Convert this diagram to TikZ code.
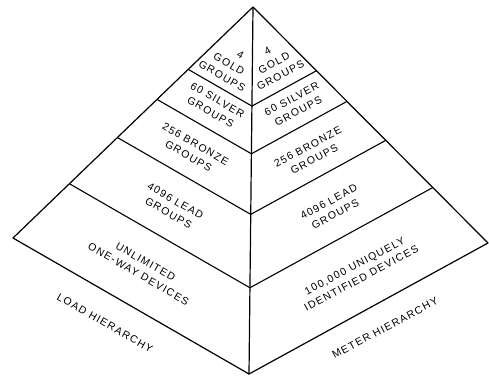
\documentclass[tikz,border=0pt]{standalone}
\usepackage{fontspec}
\newfontfamily\lettering{Liberation Sans}[LetterSpace=12]
\usetikzlibrary{calc}

\begin{document}
\begin{tikzpicture}[
  x=1pt, y=-1pt,
  edge/.style={line width=1.2pt, line join=round},
  band/.style={line width=1.1pt, line join=round},
  lbl/.style={font=\lettering\fontsize{10.5}{14}\selectfont, align=center, inner sep=0pt},
  lface/.style={lbl, rotate=-30},
  rface/.style={lbl, rotate=28}
]
\useasboundingbox (0,0) rectangle (489,376);
\coordinate (apex) at (253,7);
\coordinate (lcorner) at (13,238);
\coordinate (rcorner) at (488,243);
\coordinate (base) at (249,374);
% outline and ridge
\draw[edge] (apex) -- (lcorner) -- (base) -- (rcorner) -- cycle;
\draw[edge] (apex) -- (base);
% band boundaries
\foreach \t [count=\i] in {0.27,0.40,0.565,0.765}{
  \coordinate (l\i) at ($(apex)!\t!(lcorner)$);
  \coordinate (r\i) at ($(apex)!\t!(rcorner)$);
  \coordinate (m\i) at ($(apex)!\t!(base)$);
  \draw[band] (l\i) -- (m\i) -- (r\i);
}
% load side
\node[lface] (lgold) at (229,64) {\hspace*{10pt}4\\GOLD\\GROUPS};
\node[lface] (lsilver) at (214,106) {60 SILVER\\GROUPS};
\node[lface] (lbronze) at (192,150) {256 BRONZE\\GROUPS};
\node[lface] (llead) at (172,207) {4096 LEAD\\GROUPS};
\node[lface] (ldevices) at (142,268) {UNLIMITED\\ONE-WAY DEVICES};
\node[lface] (lhier) at (105,323) {LOAD HIERARCHY};
% meter side
\node[rface] (rgold) at (274,63) {4\\GOLD\\GROUPS};
\node[rface] (rsilver) at (295,105) {60 SILVER\\GROUPS};
\node[rface] (rbronze) at (311,153) {256 BRONZE\\GROUPS};
\node[rface] (rlead) at (332,208) {4096 LEAD\\GROUPS};
\node[rface] (rdevices) at (358,272) {100,000 UNIQUELY\\IDENTIFIED DEVICES};
\node[rface] (rhier) at (385,328) {METER HIERARCHY};
\end{tikzpicture}
\end{document}
